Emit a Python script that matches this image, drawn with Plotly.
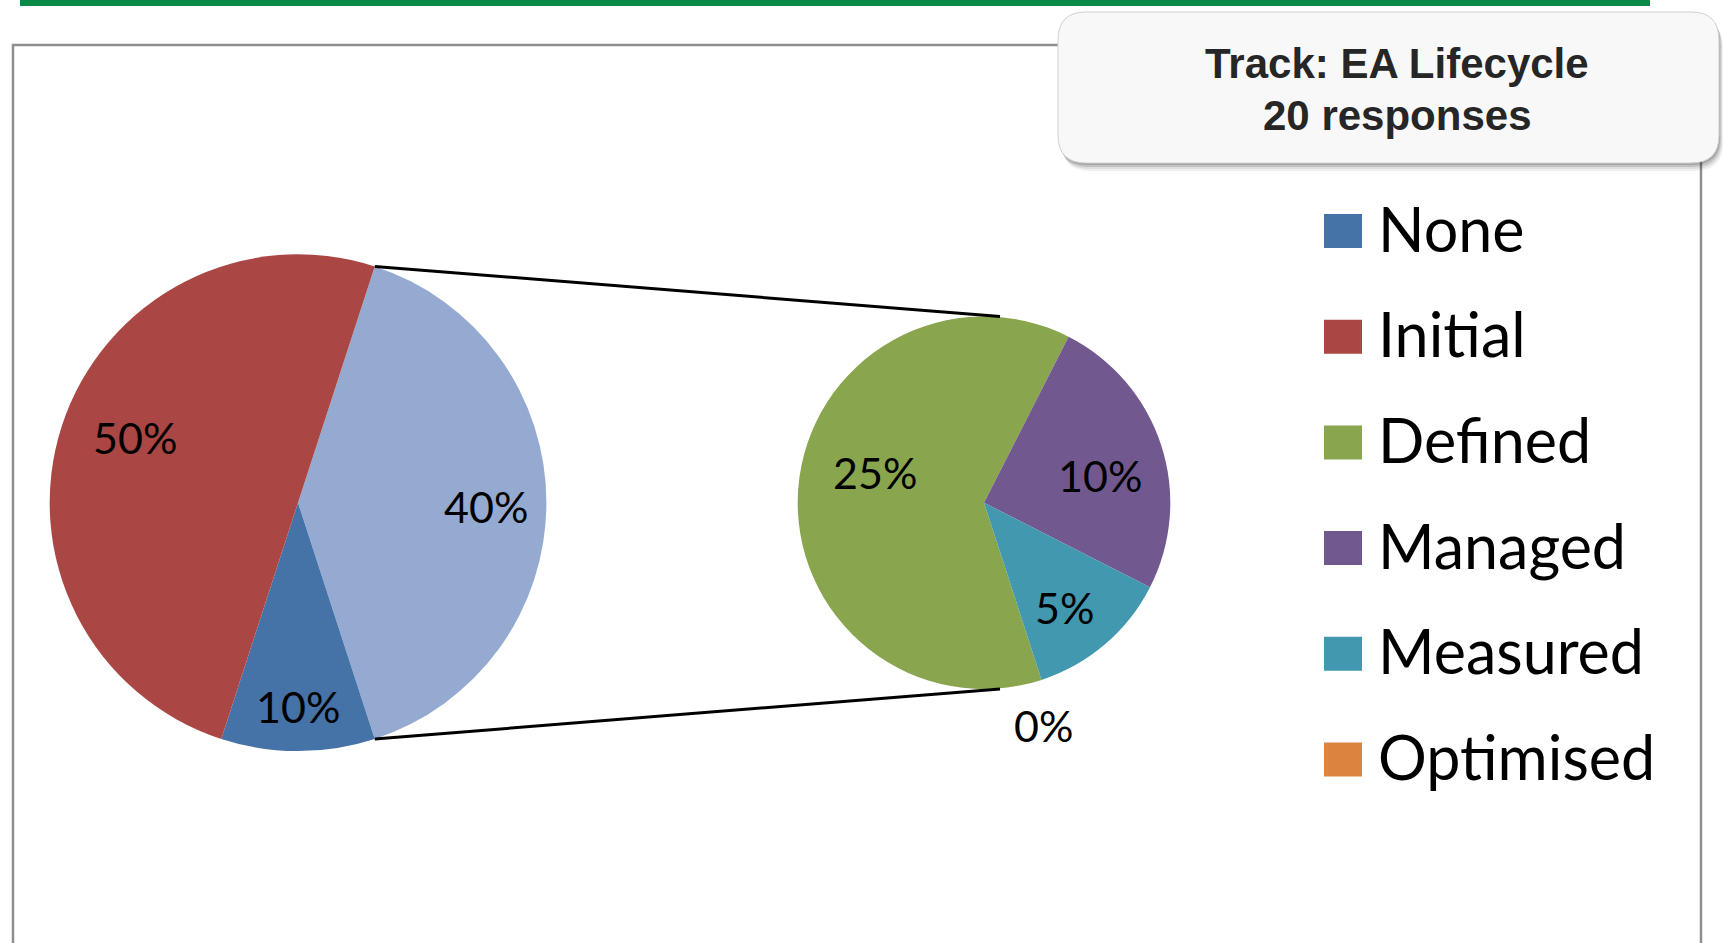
import math
import plotly.graph_objects as go

# ---------------- data ----------------
categories = ["None", "Initial", "Defined", "Managed", "Measured", "Optimised"]
percentages = [10, 50, 25, 10, 5, 0]
responses = 20
track = "EA Lifecycle"
other_label = "Other"

# ---------------- style ----------------
W, H = 1723, 943
cat_colors = ["#4572A7", "#AA4643", "#89A54E", "#71588F", "#4198AF", "#DB843D"]
other_color = "#95AAD0"
label_font = dict(family="Lato", size=43, color="black")
legend_font = dict(family="Lato", size=61, color="black")
title_font = dict(family="Liberation Sans, Arial", size=42, color="#262626")

L_CX, L_CY, L_R = 298, 502.7, 248.4
R_CX, R_CY, R_R = 984, 502.7, 186.3
# label radial fraction and angular nudge (deg) per slice
left_lab_r = [0.757, 0.822, 0.706]
left_lab_da = [1.3, 0, 3.7]
right_lab_r = [0.608, 0.639, 0.709, 1.235]
right_lab_da = [11.2, 5, 2.7, 3.1]


def X(p):
    return p / W


def Y(p):
    return 1 - p / H


def dom(cx, cy, r):
    return dict(x=[X(cx - r), X(cx + r)], y=[Y(cy + r), Y(cy - r)])


# left pie: Other (split), None, Initial
left_labels = [other_label, categories[0], categories[1]]
left_values = [sum(percentages[2:]), percentages[0], percentages[1]]
left_colors = [other_color, cat_colors[0], cat_colors[1]]
tot1 = sum(left_values)
rot1 = 90 - left_values[0] / tot1 * 360 / 2

right_labels = categories[2:]
right_values = percentages[2:]
right_colors = cat_colors[2:]
tot2 = sum(right_values)
rot2 = 180 - rot1

fig = go.Figure()
fig.add_trace(go.Pie(labels=left_labels, values=left_values, sort=False,
                     direction="clockwise", rotation=rot1,
                     marker=dict(colors=left_colors, line=dict(width=0)),
                     textinfo="none", hoverinfo="label+value",
                     domain=dom(L_CX, L_CY, L_R), showlegend=False))
fig.add_trace(go.Pie(labels=right_labels, values=right_values, sort=False,
                     direction="clockwise", rotation=rot2,
                     marker=dict(colors=right_colors, line=dict(width=0)),
                     textinfo="none", hoverinfo="label+value",
                     domain=dom(R_CX, R_CY, R_R), showlegend=False))

annotations = []


def pie_labels(values, rot, cx, cy, R, fr, da):
    tot = sum(values)
    a = rot
    for i, v in enumerate(values):
        span = v / tot * 360
        mid = math.radians(a + span / 2 + da[i])
        r = R * fr[i]
        x = cx + r * math.sin(mid)
        y = cy - r * math.cos(mid)
        annotations.append(dict(x=X(x), y=Y(y), xref="paper", yref="paper",
                                text=f"{v}%", showarrow=False, font=label_font,
                                xanchor="center", yanchor="middle"))
        a += span


pie_labels(left_values, rot1, L_CX, L_CY, L_R, left_lab_r, left_lab_da)
pie_labels(right_values, rot2, R_CX, R_CY, R_R, right_lab_r, right_lab_da)

shapes = []
# green top bar
shapes.append(dict(type="rect", xref="paper", yref="paper", x0=X(20), x1=X(1650),
                   y0=Y(0), y1=Y(6), fillcolor="#0A8A46", line=dict(width=0)))
# grey frame
shapes.append(dict(type="rect", xref="paper", yref="paper", x0=X(13), x1=X(1701),
                   y0=Y(45), y1=Y(990), line=dict(color="#8E8E8E", width=2.5)))

# connector lines
a_start = math.radians(rot1)
a_end = math.radians(rot1 + left_values[0] / tot1 * 360)
for ang, ry in ((a_start, R_CY - R_R), (a_end, R_CY + R_R)):
    x0 = L_CX + L_R * math.sin(ang)
    y0 = L_CY - L_R * math.cos(ang)
    shapes.append(dict(type="line", xref="paper", yref="paper",
                       x0=X(x0), y0=Y(y0), x1=X(R_CX + 16), y1=Y(ry),
                       line=dict(color="black", width=3)))


def rrect(x0, y0, x1, y1, r):
    pts = [
        f"M {X(x0 + r)} {Y(y0)}", f"L {X(x1 - r)} {Y(y0)}",
        f"Q {X(x1)} {Y(y0)} {X(x1)} {Y(y0 + r)}", f"L {X(x1)} {Y(y1 - r)}",
        f"Q {X(x1)} {Y(y1)} {X(x1 - r)} {Y(y1)}", f"L {X(x0 + r)} {Y(y1)}",
        f"Q {X(x0)} {Y(y1)} {X(x0)} {Y(y1 - r)}", f"L {X(x0)} {Y(y0 + r)}",
        f"Q {X(x0)} {Y(y0)} {X(x0 + r)} {Y(y0)}", "Z"]
    return " ".join(pts)


# title box shadow + box
for off, alpha in ((8, 0.06), (6, 0.08), (4, 0.12), (2, 0.15)):
    shapes.append(dict(type="path", xref="paper", yref="paper",
                       path=rrect(1058 + off / 2, 12 + off, 1719 + off / 2, 163 + off, 28),
                       fillcolor=f"rgba(0,0,0,{alpha})", line=dict(width=0)))
shapes.append(dict(type="path", xref="paper", yref="paper",
                   path=rrect(1058, 12, 1719, 163, 28),
                   fillcolor="#F8F8F8", line=dict(color="#D0D0D0", width=1)))

annotations.append(dict(x=X(1397), y=Y(63), xref="paper", yref="paper",
                        text=f"<b>Track: {track}</b>", showarrow=False,
                        font=title_font, xanchor="center", yanchor="middle"))
annotations.append(dict(x=X(1397), y=Y(115), xref="paper", yref="paper",
                        text=f"<b>{responses} responses</b>", showarrow=False,
                        font=title_font, xanchor="center", yanchor="middle"))

# legend
LEG_X0, LEG_SW, LEG_SH, LEG_TX = 1324, 38, 34, 1376
LEG_Y0, LEG_DY = 228, 105.7
for i, (c, col) in enumerate(zip(categories, cat_colors)):
    yc = LEG_Y0 + i * LEG_DY
    shapes.append(dict(type="rect", xref="paper", yref="paper",
                       x0=X(LEG_X0), x1=X(LEG_X0 + LEG_SW),
                       y0=Y(yc + 3 - LEG_SH / 2), y1=Y(yc + 3 + LEG_SH / 2),
                       fillcolor=col, line=dict(width=0)))
    annotations.append(dict(x=X(LEG_TX), y=Y(yc), xref="paper", yref="paper",
                            text=c, showarrow=False, font=legend_font,
                            xanchor="left", yanchor="middle"))

fig.update_layout(width=W, height=H, margin=dict(l=0, r=0, t=0, b=0),
                  paper_bgcolor="white", plot_bgcolor="white",
                  shapes=shapes, annotations=annotations, showlegend=False)

fig.write_html("out.html", config={"displayModeBar": False},
               post_script="document.body.style.margin='0';document.body.style.overflow='hidden';")
